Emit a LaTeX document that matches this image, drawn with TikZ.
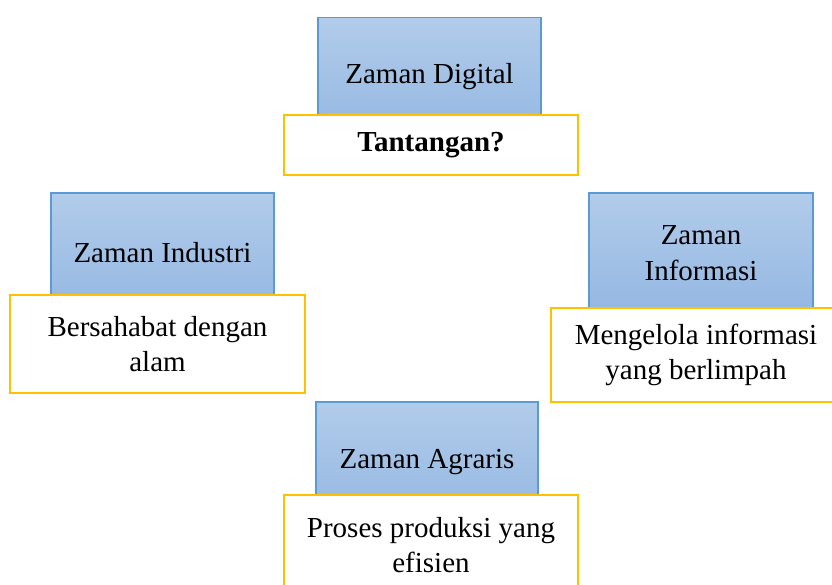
\documentclass[tikz,border=0pt]{standalone}
\usepackage{fontspec}
\setmainfont{Liberation Serif}
\definecolor{birutepi}{RGB}{91,155,213}
\definecolor{biruatas}{RGB}{178,204,234}
\definecolor{birubawah}{RGB}{148,183,226}
\definecolor{kuning}{RGB}{255,192,0}
\tikzset{
  zaman/.style={rectangle, draw=birutepi, line width=1.5pt, top color=biruatas,
    bottom color=birubawah, align=center, inner sep=0pt, minimum width=223pt,
    minimum height=120pt},
  ciri/.style={rectangle, draw=kuning, line width=2.8pt, fill=white,
    align=center, inner sep=0pt}
}

\begin{document}
\begin{tikzpicture}[x=1pt,y=-1pt,font=\fontsize{29}{35.5}\selectfont]
\useasboundingbox (0,0) rectangle (832,585);
\clip (0,0) rectangle (832,585);
% Zaman Digital (atas)
\node[zaman, minimum height=119pt] (digital) at (429.5,77) {Zaman Digital};
\node[ciri, minimum width=294pt, minimum height=60pt] (tantangan) at (431,145) {\textbf{Tantangan?}};
% Zaman Industri (kiri)
\node[zaman] (industri) at (162.5,253) {Zaman Industri};
\node[ciri, minimum width=295pt, minimum height=98pt] (alam) at (157.5,344) {Bersahabat dengan\\alam};
% Zaman Informasi (kanan)
\node[zaman, minimum width=224pt] (informasi) at (701,253) {Zaman\\Informasi};
\node[ciri, minimum width=290pt, minimum height=94pt] (berlimpah) at (696,355) {Mengelola informasi\\yang berlimpah};
% Zaman Agraris (bawah)
\node[zaman, minimum width=222pt] (agraris) at (427,462) {Zaman Agraris};
\node[ciri, minimum width=294pt, minimum height=100pt] (efisien) at (431,545) {Proses produksi yang\\efisien};
\end{tikzpicture}
\end{document}
